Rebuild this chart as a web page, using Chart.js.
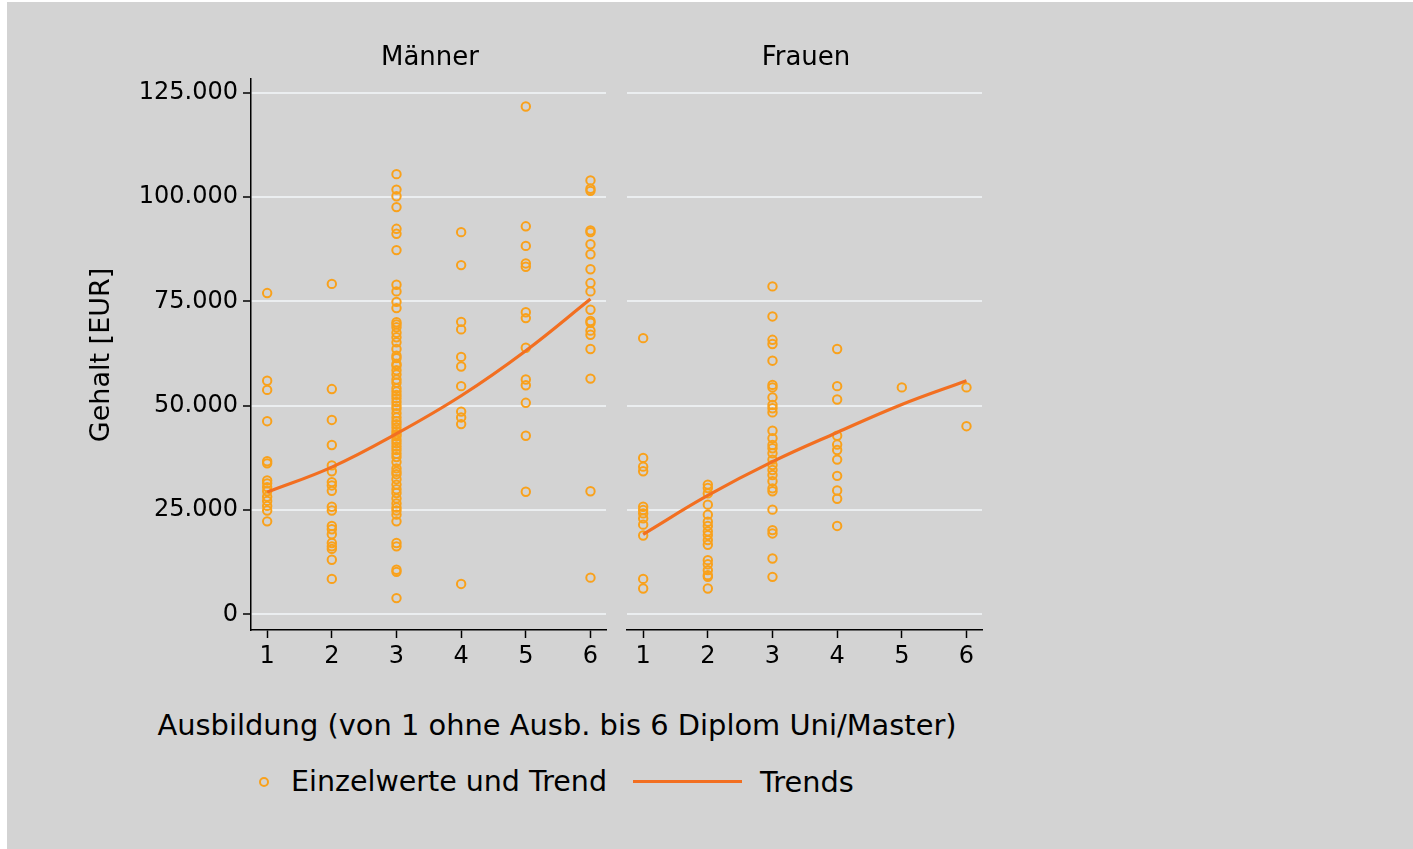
<!DOCTYPE html>
<html><head><meta charset="utf-8">
<script src="https://cdn.jsdelivr.net/npm/chart.js@4.4.1/dist/chart.umd.min.js"></script>
<style>
html,body{margin:0;padding:0;}
body{width:1413px;height:849px;background:#d3d3d3;position:relative;overflow:hidden;font-family:"DejaVu Sans",sans-serif;color:#000;}
.wl{position:absolute;left:0;top:0;width:7px;height:849px;background:#fff;}
.wt{position:absolute;left:0;top:0;width:1413px;height:2px;background:#fff;}
canvas{position:absolute;top:0;}
.t{position:absolute;white-space:nowrap;text-align:center;line-height:32px;height:32px;}
</style></head><body>
<div class="wl"></div><div class="wt"></div>
<canvas id="cm" width="620" height="700" style="left:0px"></canvas>
<canvas id="cf" width="380" height="700" style="left:620px"></canvas>
<div class="t" id="tm" style="left:330px;top:40px;width:200px;font-size:26px;">Männer</div>
<div class="t" id="tf" style="left:706px;top:40px;width:200px;font-size:26px;">Frauen</div>
<div class="t" id="ty" style="left:-50px;top:339px;width:300px;font-size:27px;transform:rotate(-90deg);">Gehalt [EUR]</div>
<div class="t" id="tx" style="left:57px;top:709px;width:1000px;font-size:28.9px;">Ausbildung (von 1 ohne Ausb. bis 6 Diplom Uni/Master)</div>
<div style="position:absolute;left:259px;top:777px;width:6px;height:6px;border:2px solid #F9A11B;border-radius:50%;"></div>
<div class="t" style="left:291px;top:766px;text-align:left;font-size:28.5px;">Einzelwerte und Trend</div>
<div style="position:absolute;left:633px;top:780px;width:109px;height:3px;background:#F26F21;"></div>
<div class="t" style="left:760px;top:766px;text-align:left;font-size:28.8px;">Trends</div>
<script>
// ---- data ----
const xTicks = [1, 2, 3, 4, 5, 6];
const yTicks = [0, 25000, 50000, 75000, 100000, 125000];
const panelTitles = ["Männer", "Frauen"];

const menEdu1 = [77000, 56000, 53800, 46300, 36700, 36200, 32100, 31400, 30500, 29500, 28200, 27200, 26000, 24900, 22300];
const menEdu2 = [79200, 54000, 46600, 40600, 35700, 34300, 31700, 30900, 29600, 25800, 24900, 21200, 20400, 19200, 17100, 16300, 15700, 13100, 8500];
const menEdu3 = [105500, 101800, 100200, 97600, 92400, 91200, 87300, 79000, 77400, 74900, 73400, 70000, 69500, 68800, 67500, 66400, 65200, 63600, 62000, 61400, 60000, 59600, 58500, 57500, 56300, 55500, 54200, 53400, 52600, 51800, 50900, 50000, 49300, 48200, 47200, 46300, 45600, 44800, 43900, 43200, 42700, 41800, 41000, 40200, 39400, 38500, 37700, 36500, 35000, 34200, 33600, 32400, 31100, 30000, 29100, 27800, 26600, 25600, 24900, 23900, 22300, 17100, 16300, 10700, 10200, 3900];
const menEdu4 = [91600, 83700, 70100, 68300, 61700, 59400, 54700, 48600, 47200, 45600, 7300];
const menEdu5 = [121700, 93000, 88300, 84100, 83300, 72400, 71000, 63900, 56300, 54900, 50700, 42800, 29400];
const menEdu6 = [104000, 102000, 101500, 92000, 91600, 88700, 86300, 82700, 79400, 77400, 73000, 70300, 69900, 68000, 67000, 63600, 56500, 29500, 8800];
const menTrend = [29300, 35300, 43300, 52400, 63200, 75600];

const womenEdu1 = [66200, 37500, 35400, 34300, 25800, 25000, 24200, 23000, 21500, 18900, 8500, 6200];
const womenEdu2 = [31100, 30300, 29000, 26300, 23900, 22200, 21200, 19900, 19000, 17800, 16700, 13000, 12000, 10600, 9400, 9000, 6200];
const womenEdu3 = [78600, 71400, 65800, 64800, 60800, 55000, 54400, 52000, 50200, 49400, 48400, 44000, 42200, 40600, 39800, 38600, 37100, 35800, 34600, 33400, 31900, 30200, 29500, 25100, 20200, 19400, 13400, 9000];
const womenEdu4 = [63600, 54700, 51500, 42800, 40700, 39400, 37100, 33200, 29700, 27700, 21200];
const womenEdu5 = [54400];
const womenEdu6 = [54400, 45100];
const womenTrend = [19200, 28500, 36600, 43600, 50300, 56000];

// ---- build ----
const POINT = '#F9A11B', LINE = '#F26F21', GRID = '#EBEEF0';
function pts(groups) {
  const out = [];
  groups.forEach((arr, i) => arr.forEach(v => out.push({ x: xTicks[i], y: v })));
  return out;
}
function trend(vals) { return vals.map((v, i) => ({ x: xTicks[i], y: v })); }
function fmt(v) { return v === 0 ? '0' : (v / 1000) + '.000'; }

function makeChart(id, groups, tr, isLeft) {
  const tickFont = { family: 'DejaVu Sans', size: 24 };
  return new Chart(document.getElementById(id), {
    type: 'scatter',
    data: {
      datasets: [
        { label: 'Trends', data: trend(tr), showLine: true, borderColor: LINE, borderWidth: 3.2,
          pointRadius: 0, tension: 0.4, fill: false },
        { label: 'Einzelwerte und Trend', data: pts(groups), showLine: false, pointStyle: 'circle',
          pointRadius: 4.2, pointBorderWidth: 2, pointBorderColor: POINT, pointBackgroundColor: 'rgba(0,0,0,0)',
          borderColor: POINT, backgroundColor: 'rgba(0,0,0,0)' }
      ]
    },
    options: {
      responsive: false, animation: false, events: [],
      layout: { padding: isLeft ? { left: 0, right: 14, top: 79, bottom: 0 } : { left: 7, right: 18, top: 79, bottom: 0 } },
      plugins: { legend: { display: false }, title: { display: false }, tooltip: { enabled: false } },
      scales: {
        x: {
          type: 'linear', min: 0.75, max: 6.24,
          afterBuildTicks: s => { s.ticks = xTicks.map(v => ({ value: v })); },
          afterFit: s => { s.height = 70; },
          grid: { display: true, drawOnChartArea: false, drawTicks: true, tickLength: 8, tickColor: '#000', tickWidth: 1.5 },
          border: { display: true, color: '#000', width: 1.5 },
          ticks: { font: tickFont, color: '#000', padding: 4, maxRotation: 0, autoSkip: false, callback: v => String(v) }
        },
        y: {
          type: 'linear', min: -3740, max: 128300,
          afterBuildTicks: s => { s.ticks = yTicks.map(v => ({ value: v })); },
          afterFit: s => { s.width = isLeft ? 251 : 0; },
          grid: { display: true, drawOnChartArea: true, color: GRID, lineWidth: 2,
                  drawTicks: isLeft, tickLength: 8, tickColor: '#000', tickWidth: 1.5 },
          border: { display: isLeft, color: '#000', width: 1.5 },
          ticks: { display: isLeft, font: tickFont, color: '#000', padding: 5, autoSkip: false, callback: v => fmt(v) }
        }
      }
    }
  });
}

makeChart('cm', [menEdu1, menEdu2, menEdu3, menEdu4, menEdu5, menEdu6], menTrend, true);
makeChart('cf', [womenEdu1, womenEdu2, womenEdu3, womenEdu4, womenEdu5, womenEdu6], womenTrend, false);
</script>
</body></html>
